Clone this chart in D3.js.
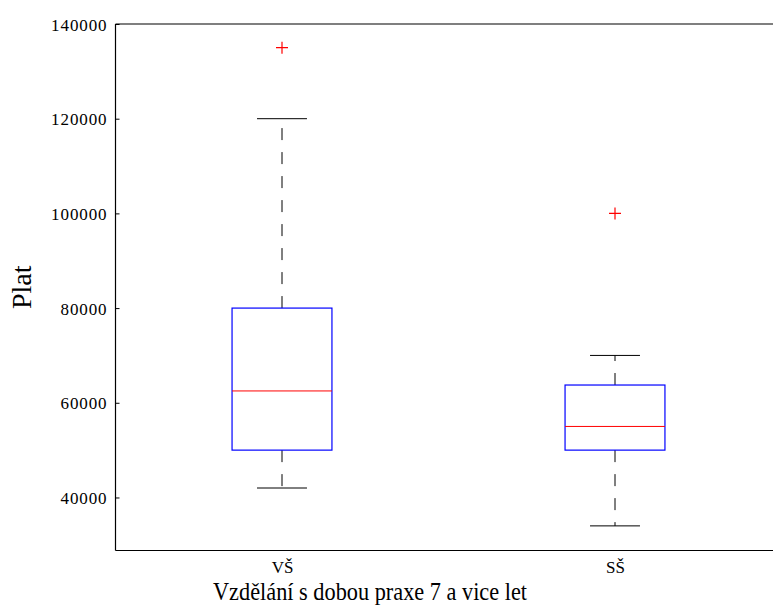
<!DOCTYPE html>
<html>
<head>
<meta charset="utf-8">
<script src="https://cdn.jsdelivr.net/npm/d3@7"></script>
<style>
  html, body { margin: 0; padding: 0; background: #fff; }
  svg text { font-family: "Liberation Serif", "Times New Roman", Times, "DejaVu Serif", serif; fill: #000; }
</style>
</head>
<body>
<svg id="chart" width="773" height="608"></svg>
<script>
// Salary box plots by education level (7+ years of practice)
const categories = ["VŠ", "SŠ"];
const whiskerLow  = [42000, 34000];
const quartile1   = [50000, 50000];
const medians     = [62500, 55000];
const quartile3   = [80000, 63750];
const whiskerHigh = [120000, 70000];
const outliers    = [[135000], [100000]];
const yTicks      = [40000, 60000, 80000, 100000, 120000, 140000];

const svg = d3.select("#chart");
const margin = { left: 115.5, top: 24, bottom: 550.5 };
const plotRight = 781.5;

const x = d3.scaleLinear().domain([0.5, 2.5]).range([margin.left, plotRight]);
const y = d3.scaleLinear().domain([28800, 140000]).range([margin.bottom, margin.top]);

const boxHalf = 0.15, capHalf = 0.075;

// Axes frame (left, top, bottom spines)
const frame = svg.append("g").attr("stroke", "#000").attr("stroke-width", 1.2);
frame.append("line").attr("x1", margin.left).attr("x2", margin.left).attr("y1", margin.top).attr("y2", margin.bottom);
frame.append("line").attr("x1", margin.left).attr("x2", plotRight).attr("y1", margin.top).attr("y2", margin.top);
frame.append("line").attr("x1", margin.left).attr("x2", plotRight).attr("y1", margin.bottom).attr("y2", margin.bottom);

// Y axis: inward ticks, labels to the left
const yAxis = d3.axisLeft(y).tickValues(yTicks).tickSize(-4).tickPadding(8).tickFormat(d3.format("d"));
const gy = svg.append("g").attr("transform", `translate(${margin.left},0)`).call(yAxis)
  .attr("font-family", null);
gy.select(".domain").remove();
gy.selectAll(".tick line").attr("stroke", "#000").attr("stroke-width", 1);
gy.selectAll(".tick text")
  .attr("font-size", 17).attr("letter-spacing", 0.9).attr("dy", "0.36em");

// X axis: category labels only
const xAxis = d3.axisBottom(x).tickValues([1, 2]).tickSize(0).tickPadding(10)
  .tickFormat((d, i) => categories[i]);
const gx = svg.append("g").attr("transform", `translate(0,${margin.bottom})`).call(xAxis)
  .attr("font-family", null);
gx.select(".domain").remove();
gx.selectAll(".tick text").attr("font-size", 17);

// Boxes
const groups = svg.append("g").selectAll("g").data(categories).join("g");

groups.each(function (c, i) {
  const g = d3.select(this);
  const cx = x(i + 1);
  // whiskers (dashed)
  g.append("line").attr("x1", cx).attr("x2", cx)
    .attr("y1", y(quartile3[i])).attr("y2", y(whiskerHigh[i]))
    .attr("stroke", "#000").attr("stroke-width", 1).attr("stroke-dasharray", "12,12");
  g.append("line").attr("x1", cx).attr("x2", cx)
    .attr("y1", y(quartile1[i])).attr("y2", y(whiskerLow[i]))
    .attr("stroke", "#000").attr("stroke-width", 1).attr("stroke-dasharray", "12,12");
  // caps
  [whiskerLow[i], whiskerHigh[i]].forEach(v => {
    g.append("line").attr("x1", x(i + 1 - capHalf)).attr("x2", x(i + 1 + capHalf))
      .attr("y1", y(v)).attr("y2", y(v)).attr("stroke", "#000").attr("stroke-width", 1);
  });
  // box
  g.append("rect")
    .attr("x", x(i + 1 - boxHalf)).attr("width", x(i + 1 + boxHalf) - x(i + 1 - boxHalf))
    .attr("y", y(quartile3[i])).attr("height", y(quartile1[i]) - y(quartile3[i]))
    .attr("fill", "none").attr("stroke", "#0000ff").attr("stroke-width", 1.2);
  // median
  g.append("line").attr("x1", x(i + 1 - boxHalf)).attr("x2", x(i + 1 + boxHalf))
    .attr("y1", y(medians[i])).attr("y2", y(medians[i]))
    .attr("stroke", "#ff0000").attr("stroke-width", 1);
  // outliers as '+'
  outliers[i].forEach(v => {
    const py = y(v);
    g.append("path").attr("d", `M${cx - 6},${py}H${cx + 6}M${cx},${py - 6}V${py + 6}`)
      .attr("stroke", "#ff0000").attr("stroke-width", 1.2).attr("fill", "none");
  });
});

// Axis titles
svg.append("text").attr("x", 370).attr("y", 600).attr("text-anchor", "middle")
  .attr("font-size", 26).attr("textLength", 314).attr("lengthAdjust", "spacingAndGlyphs")
  .text("Vzdělání s dobou praxe 7 a vice let");
svg.append("text").attr("transform", `translate(31,${(margin.top + margin.bottom) / 2}) rotate(-90)`)
  .attr("text-anchor", "middle").attr("font-size", 28).text("Plat");
</script>
</body>
</html>
